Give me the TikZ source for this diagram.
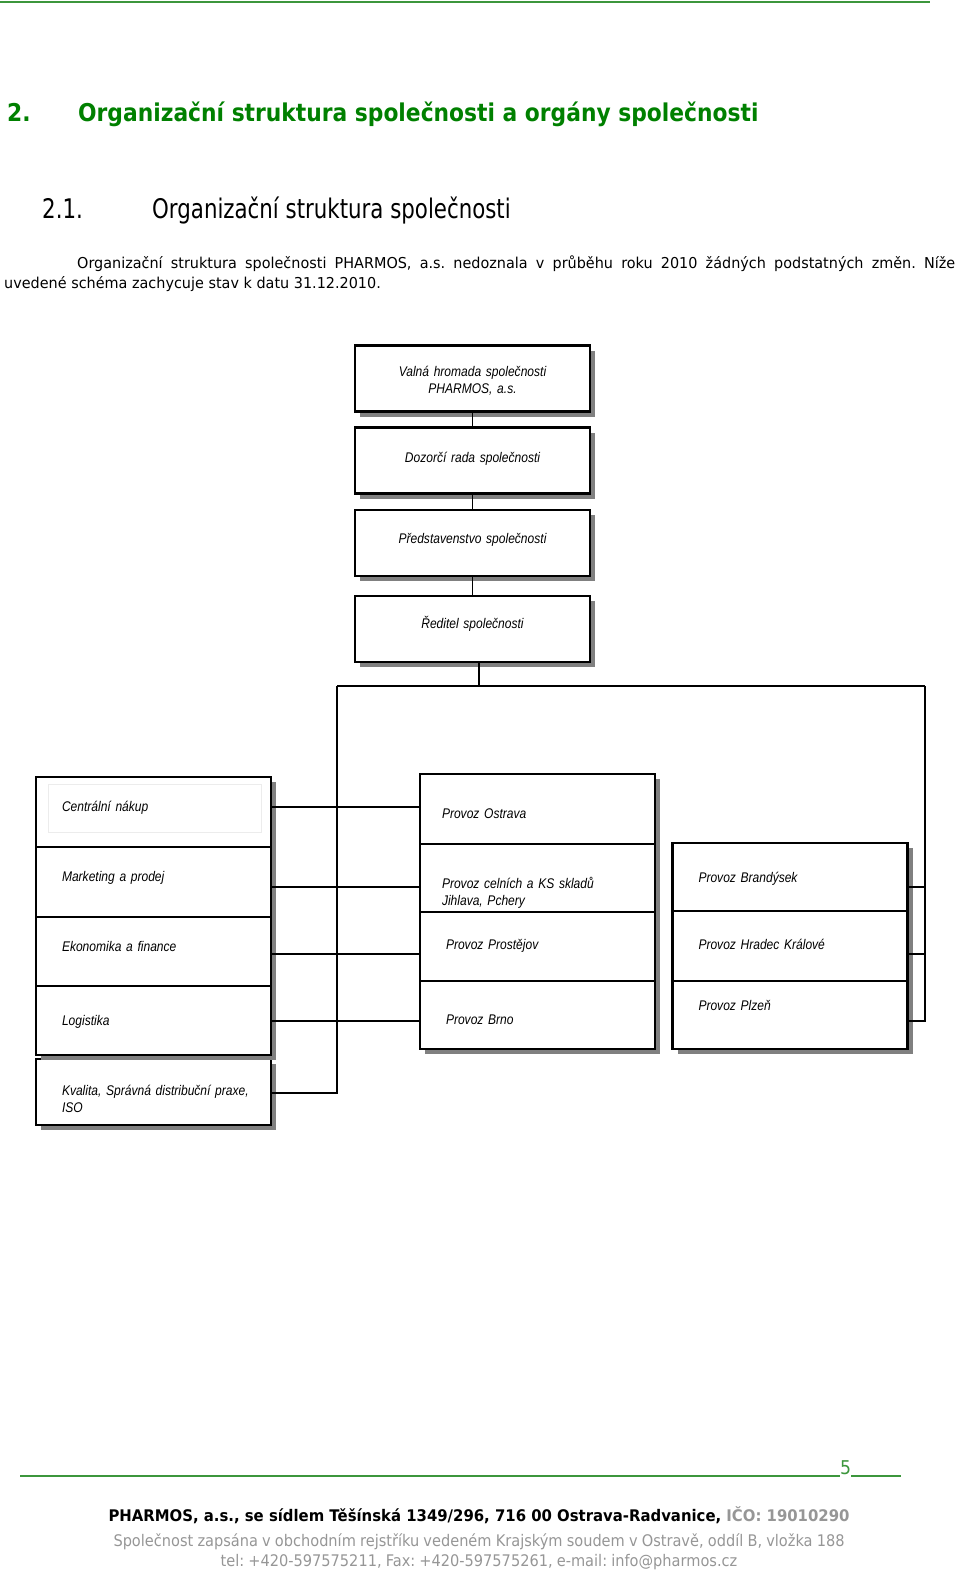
\documentclass[tikz,border=0pt]{standalone}
\usepackage{fontspec}
\setmainfont{DejaVu Sans}
\newfontfamily\headfont[FakeStretch=0.89]{DejaVu Sans}
\newfontfamily\subfont[FakeStretch=0.79]{DejaVu Sans}
\newfontfamily\bodyfont[FakeStretch=0.96]{DejaVu Sans}
\newfontfamily\footfont[FakeStretch=0.91,WordSpace=0.9]{DejaVu Sans}
\newfontfamily\footbold[FakeStretch=0.93]{DejaVu Sans}
\newfontfamily\boxfont[FakeStretch=0.86,WordSpace=0.8]{Liberation Sans}
\usetikzlibrary{positioning,shadows,calc}
\definecolor{titlegreen}{RGB}{0,128,0}
\definecolor{rulegreen}{RGB}{60,150,60}
\definecolor{footgray}{RGB}{150,150,150}
\definecolor{shadowgray}{RGB}{128,128,128}
\definecolor{innergray}{RGB}{236,236,236}
\frenchspacing

\newcommand{\lift}[2]{\raisebox{#1}[0pt][0pt]{#2}}

\tikzset{
  orgbox/.style={rectangle, draw=black, line width=2.6pt, fill=white, anchor=north west,
    outer sep=0pt, inner ysep=0pt, inner xsep=26pt, text width=183pt, minimum height=68pt,
    font=\boxfont\itshape\fontsize{14pt}{17pt}\selectfont, align=left,
    drop shadow={shadow xshift=5pt, shadow yshift=-5pt, fill=shadowgray, opacity=1}},
  topbox/.style={orgbox, align=center, inner xsep=10pt, text width=215pt, minimum height=66pt},
  link/.style={draw=black, line width=1.3pt},
  rule/.style={draw=rulegreen, line width=1.2pt},
}

\begin{document}
\begin{tikzpicture}[x=1pt, y=-1pt]
  \useasboundingbox (0,0) rectangle (960,1571);

  % page header
  \draw[rule, line width=2pt] (0,2) -- (930,2);
  \node[anchor=base west, inner sep=0pt, font=\headfont\bfseries\fontsize{24.5pt}{29pt}\selectfont, text=titlegreen] (secnum) at (7,121) {2.};
  \node[anchor=base west, inner sep=0pt, font=\headfont\bfseries\fontsize{24.5pt}{29pt}\selectfont, text=titlegreen] (sectitle) at (78,121) {Organizační struktura společnosti a orgány společnosti};
  \node[anchor=base west, inner sep=0pt, font=\subfont\fontsize{27pt}{32pt}\selectfont] (subnum) at (42,218) {2.1.};
  \node[anchor=base west, inner sep=0pt, font=\subfont\fontsize{27pt}{32pt}\selectfont] (subtitle) at (152,218) {Organizační struktura společnosti};
  \node[anchor=north west, inner sep=0pt, text width=951pt, align=justify, font=\bodyfont\fontsize{15pt}{20pt}\selectfont] (intro) at (4,256)
    {\hspace*{73pt}Organizační struktura společnosti PHARMOS, a.s. nedoznala v~průběhu roku 2010 žádných podstatných změn. Níže\linebreak uvedené schéma zachycuje stav k~datu 31.12.2010.};

  % governing bodies
  \node[topbox] (vh) at (355,345.5) {\lift{2.5pt}{\begin{tabular}[t]{@{}c@{}}Valná hromada společnosti\\PHARMOS, a.s.\end{tabular}}};
  \node[topbox] (dr) at (355,427.5) {\lift{-2pt}{Dozorčí rada společnosti}};
  \node[topbox] (ps) at (355,510) {\lift{0pt}{Představenstvo společnosti}};
  \node[topbox] (rs) at (355,596) {\lift{1pt}{Ředitel společnosti}};

  % central departments
  \node[orgbox, minimum height=66pt] (kv) at (36,1059) {\lift{-3pt}{\begin{tabular}[t]{@{}l@{}}Kvalita, Správná distribuční praxe,\\ISO\end{tabular}}};
  \node[orgbox, minimum height=70pt] (cn) at (36,777) {\lift{1pt}{Centrální nákup}};
  \node[orgbox, minimum height=70pt] (mp) at (36,847) {\lift{1pt}{Marketing a prodej}};
  \node[orgbox, minimum height=69pt] (ef) at (36,917) {\lift{0.5pt}{Ekonomika a finance}};
  \node[orgbox, minimum height=69pt] (lg) at (36,986) {\lift{-5pt}{Logistika}};

  % plants
  \node[orgbox, minimum height=70pt] (po) at (420,774) {\lift{-9pt}{\hspace*{-4pt}Provoz Ostrava}};
  \node[orgbox, minimum height=68pt] (pc) at (420,844) {\lift{-10pt}{\hspace*{-4pt}\begin{tabular}[t]{@{}l@{}}Provoz celních a KS skladů\\Jihlava, Pchery\end{tabular}}};
  \node[orgbox, minimum height=69pt] (pp) at (420,912) {\lift{-2.5pt}{Provoz Prostějov}};
  \node[orgbox, minimum height=68pt] (pb) at (420,981) {\lift{-9pt}{Provoz Brno}};
  \node[orgbox, minimum height=68pt] (br) at (672.5,843) {\lift{-5pt}{Provoz Brandýsek}};
  \node[orgbox, minimum height=70pt] (hk) at (672.5,911) {\lift{-3pt}{Provoz Hradec Králové}};
  \node[orgbox, minimum height=68pt] (pl) at (672.5,981) {\lift{5pt}{Provoz Plzeň}};

  \draw[innergray, line width=0.8pt] ([shift={(12pt,-7pt)}]cn.north west) rectangle ([shift={(-10pt,15pt)}]cn.south east);

  % connectors
  \coordinate (busL) at (337,686);
  \coordinate (busR) at (925,686);
  \coordinate (drop) at (479,686);
  \coordinate (r1) at (0,807);
  \coordinate (r2) at (0,887);
  \coordinate (r3) at (0,954);
  \coordinate (r4) at (0,1021);
  \coordinate (r5) at (0,1093);

  \draw[link] (vh.south) -- (dr.north);
  \draw[link] (dr.south) -- (ps.north);
  \draw[link] (ps.south) -- (rs.north);
  \draw[link] (rs.south -| drop) -- (drop);
  \draw[link] (busL) -- (busR);
  \draw[link] (cn.east |- r1) -- (po.west |- r1);
  \draw[link] (mp.east |- r2) -- (pc.west |- r2);
  \draw[link] (ef.east |- r3) -- (pp.west |- r3);
  \draw[link] (lg.east |- r4) -- (pb.west |- r4);
  \draw[link] (kv.east |- r5) -| (busL);
  \draw[link] (br.east |- r2) -- (busR |- r2);
  \draw[link] (hk.east |- r3) -- (busR |- r3);
  \draw[link] (pl.east |- r4) -| (busR);

  % page footer
  \node[anchor=base west, inner sep=0pt, font=\footfont\fontsize{19pt}{22pt}\selectfont, text=rulegreen] (pagenum) at (840,1474) {5};
  \draw[rule] (20,1476) -- (pagenum.base west |- 0,1476);
  \draw[rule] (pagenum.base east |- 0,1476) -- (901,1476);
  \node[anchor=base, inner sep=0pt, font=\footbold\bfseries\fontsize{16pt}{20pt}\selectfont] (footA) at (479,1521)
    {PHARMOS, a.s., se sídlem Těšínská 1349/296, 716 00 Ostrava-Radvanice, \textcolor{footgray}{IČO: 19010290}};
  \node[anchor=base, inner sep=0pt, font=\footfont\fontsize{16pt}{20pt}\selectfont, text=footgray] (footB) at (479,1546)
    {Společnost zapsána v obchodním rejstříku vedeném Krajským soudem v Ostravě, oddíl B, vložka 188};
  \node[anchor=base, inner sep=0pt, font=\footfont\fontsize{16pt}{20pt}\selectfont, text=footgray] (footC) at (479,1566)
    {tel: +420-597575211, Fax: +420-597575261, e-mail: info@pharmos.cz};
\end{tikzpicture}
\end{document}
